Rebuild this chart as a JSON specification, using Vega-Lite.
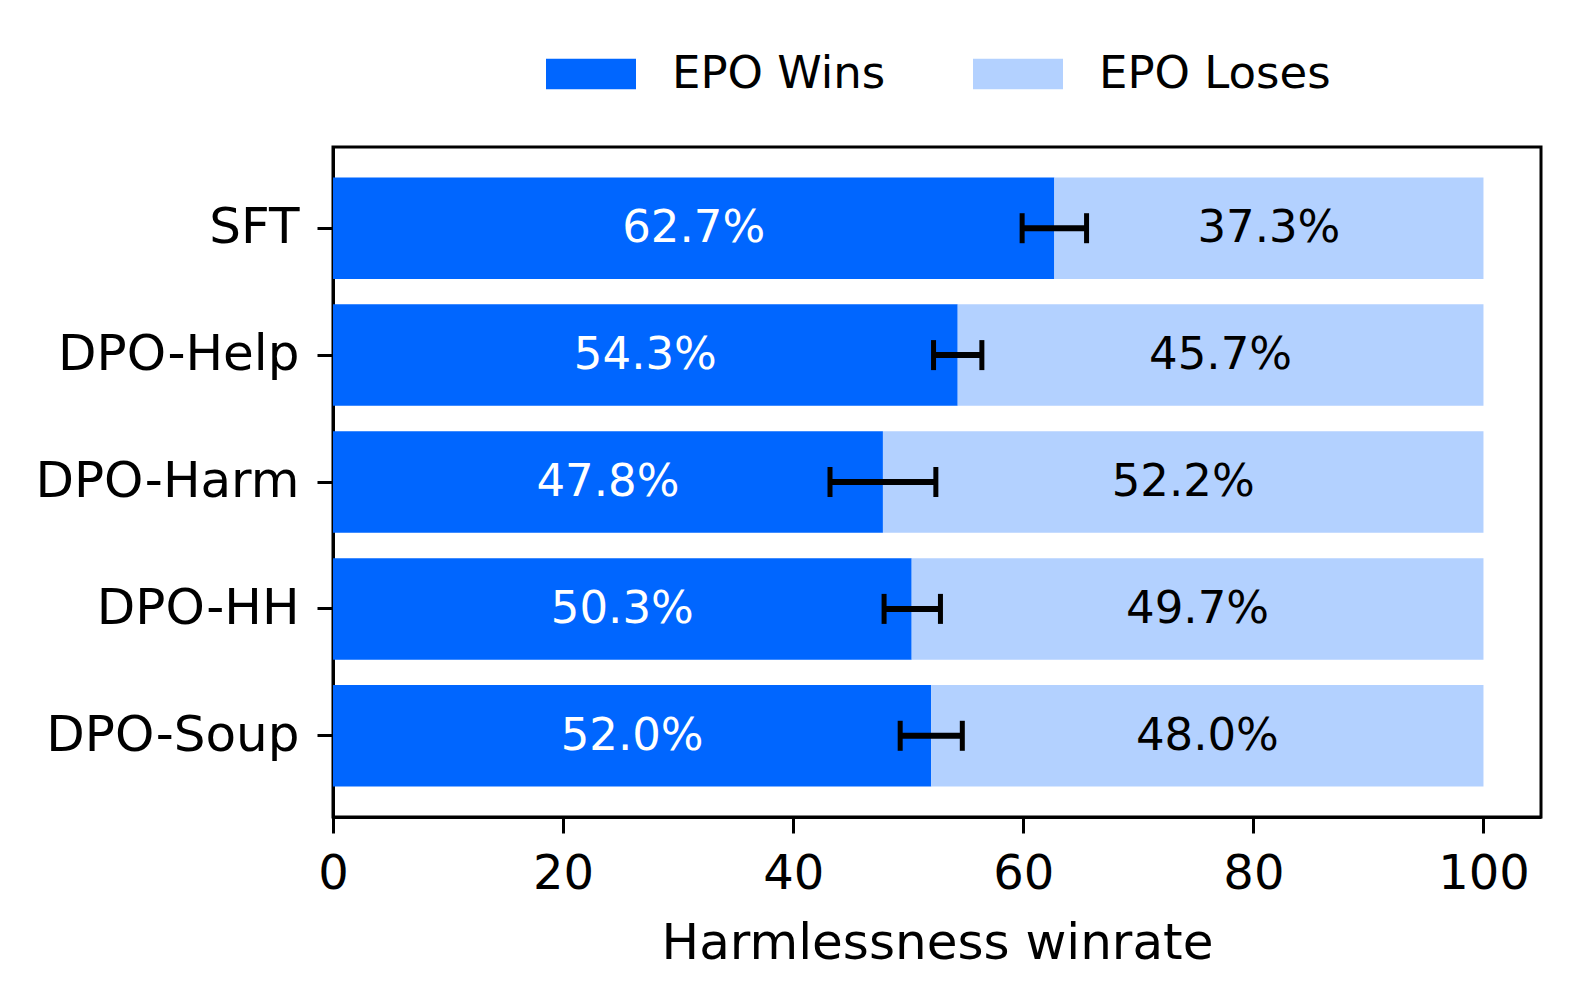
{
  "$schema": "https://vega.github.io/schema/vega-lite/v6.json",
  "width": 1208,
  "height": 670,
  "autosize": {"type": "none"},
  "padding": {"left": 333, "top": 147, "right": 36, "bottom": 187},
  "background": "white",
  "config": {
    "font": "DejaVu Sans",
    "view": {"stroke": "black", "strokeWidth": 3},
    "axis": {
      "domainColor": "black", "domainWidth": 3,
      "tickColor": "black", "tickWidth": 3, "tickSize": 16,
      "labelFont": "DejaVu Sans", "labelFontSize": 48, "labelColor": "black", "labelLimit": 0,
      "titleFont": "DejaVu Sans", "titleFontSize": 50, "titleFontWeight": "normal", "titleColor": "black",
      "grid": false
    },
    "legend": {"labelFont": "DejaVu Sans", "labelFontSize": 45, "labelColor": "black", "labelLimit": 0}
  },
  "datasets": {
    "bars": [
      {"model": "SFT", "outcome": "EPO Wins", "rank": 0, "value": 62.7, "label": "62.7%"},
      {"model": "SFT", "outcome": "EPO Loses", "rank": 1, "value": 37.3, "label": "37.3%"},
      {"model": "DPO-Help", "outcome": "EPO Wins", "rank": 0, "value": 54.3, "label": "54.3%"},
      {"model": "DPO-Help", "outcome": "EPO Loses", "rank": 1, "value": 45.7, "label": "45.7%"},
      {"model": "DPO-Harm", "outcome": "EPO Wins", "rank": 0, "value": 47.8, "label": "47.8%"},
      {"model": "DPO-Harm", "outcome": "EPO Loses", "rank": 1, "value": 52.2, "label": "52.2%"},
      {"model": "DPO-HH", "outcome": "EPO Wins", "rank": 0, "value": 50.3, "label": "50.3%"},
      {"model": "DPO-HH", "outcome": "EPO Loses", "rank": 1, "value": 49.7, "label": "49.7%"},
      {"model": "DPO-Soup", "outcome": "EPO Wins", "rank": 0, "value": 52.0, "label": "52.0%"},
      {"model": "DPO-Soup", "outcome": "EPO Loses", "rank": 1, "value": 48.0, "label": "48.0%"}
    ],
    "err": [
      {"model": "SFT", "lo": 59.9, "hi": 65.5},
      {"model": "DPO-Help", "lo": 52.2, "hi": 56.4},
      {"model": "DPO-Harm", "lo": 43.2, "hi": 52.4},
      {"model": "DPO-HH", "lo": 47.9, "hi": 52.8},
      {"model": "DPO-Soup", "lo": 49.3, "hi": 54.7}
    ]
  },
  "encoding": {
    "y": {
      "field": "model", "type": "nominal",
      "scale": {"domain": ["SFT", "DPO-Help", "DPO-Harm", "DPO-HH", "DPO-Soup"], "paddingInner": 0.2, "paddingOuter": 0.24},
      "axis": {"title": null, "labelPadding": 18, "labelFontSize": 50, "domain": true}
    }
  },
  "layer": [
    {
      "data": {"name": "bars"},
      "mark": {"type": "bar", "cornerRadius": 0},
      "encoding": {
        "x": {
          "field": "value", "type": "quantitative", "stack": "zero",
          "scale": {"domain": [0, 105], "nice": false, "zero": false},
          "axis": {"title": "Harmlessness winrate", "values": [0, 20, 40, 60, 80, 100], "labelPadding": 17, "titlePadding": 20, "labelFlush": false}
        },
        "order": {"field": "rank", "type": "quantitative"},
        "color": {
          "field": "outcome", "type": "nominal",
          "scale": {"domain": ["EPO Wins", "EPO Loses"], "range": ["#0066ff", "#b3d1ff"]},
          "legend": {
            "title": null, "orient": "none", "direction": "horizontal", "columns": 2,
            "legendX": 213, "legendY": -118,
            "symbolType": "M-1,-0.34H1V0.34H-1Z", "symbolSize": 8100, "symbolStrokeWidth": 0,
            "symbolOpacity": 1, "labelOffset": 36, "columnPadding": 87
          }
        }
      }
    },
    {
      "data": {"name": "bars"},
      "mark": {"type": "text", "fontSize": 45, "baseline": "middle", "align": "center"},
      "encoding": {
        "x": {"field": "value", "type": "quantitative", "stack": "zero", "bandPosition": 0.5},
        "order": {"field": "rank", "type": "quantitative"},
        "text": {"field": "label", "type": "nominal"},
        "color": {"condition": {"test": "datum.outcome === 'EPO Wins'", "value": "white"}, "value": "black"}
      }
    },
    {
      "data": {"name": "err"},
      "mark": {"type": "rule", "color": "black", "strokeWidth": 6},
      "encoding": {
        "x": {"field": "lo", "type": "quantitative"},
        "x2": {"field": "hi"}
      }
    },
    {
      "data": {"name": "err"},
      "mark": {"type": "tick", "color": "black", "thickness": 5, "size": 30, "orient": "vertical", "opacity": 1},
      "encoding": {"x": {"field": "lo", "type": "quantitative"}}
    },
    {
      "data": {"name": "err"},
      "mark": {"type": "tick", "color": "black", "thickness": 5, "size": 30, "orient": "vertical", "opacity": 1},
      "encoding": {"x": {"field": "hi", "type": "quantitative"}}
    }
  ]
}
